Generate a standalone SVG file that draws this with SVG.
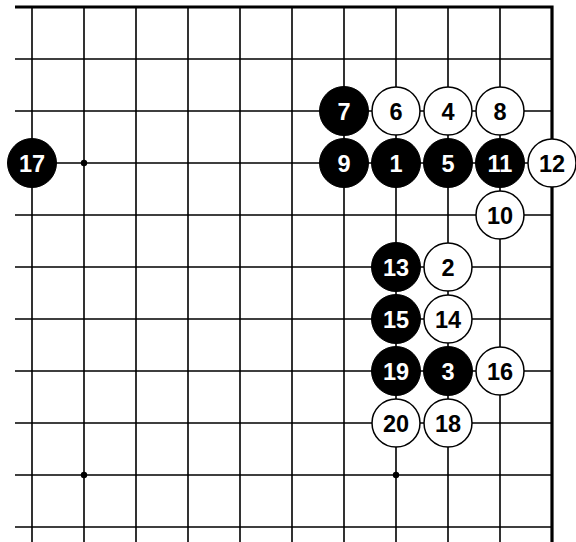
<svg xmlns="http://www.w3.org/2000/svg" width="576" height="542" viewBox="0 0 576 542">
<style>
.g{stroke:#000;stroke-width:1.6;fill:none}
.b{stroke:#000;stroke-width:3.2;fill:none}
.bs{fill:#000;stroke:#000;stroke-width:1}
.ws{fill:#fff;stroke:#000;stroke-width:1.5}
text{font-family:"Liberation Sans",Arial,sans-serif;font-weight:bold;font-size:23.5px;text-anchor:middle}
.bt{fill:#fff}
.wt{fill:#000}
</style>
<defs>
<g id="B"><circle r="24.5" class="bs"/></g>
<g id="W"><circle r="24" class="ws"/></g>
</defs>
<rect width="576" height="542" fill="#fff"/>
<g id="connectors">
<g id="grid">
<path class="g" d="M15 59H552M15 111H552M15 163H552M15 215H552M15 267H552M15 319H552M15 371H552M15 423H552M15 475H552M15 527H552"/>
<path class="g" d="M32 7V542M84 7V542M136 7V542M188 7V542M240 7V542M292 7V542M344 7V542M396 7V542M448 7V542M500 7V542"/>
<path class="b" d="M15 7H552V542"/>
<circle cx="84" cy="163" r="3.2"/>
<circle cx="84" cy="475" r="3.2"/>
<circle cx="396" cy="475" r="3.2"/>
</g>
</g>
<g id="s17" transform="translate(32,163)"><use href="#B"/><text class="bt" y="8.5">17</text></g>
<g id="s7" transform="translate(344,111)"><use href="#B"/><text class="bt" y="8.5">7</text></g>
<g id="s6" transform="translate(396,111)"><use href="#W"/><text class="wt" y="8.5">6</text></g>
<g id="s4" transform="translate(448,111)"><use href="#W"/><text class="wt" y="8.5">4</text></g>
<g id="s8" transform="translate(500,111)"><use href="#W"/><text class="wt" y="8.5">8</text></g>
<g id="s9" transform="translate(344,163)"><use href="#B"/><text class="bt" y="8.5">9</text></g>
<g id="s1" transform="translate(396,163)"><use href="#B"/><text class="bt" y="8.5">1</text></g>
<g id="s5" transform="translate(448,163)"><use href="#B"/><text class="bt" y="8.5">5</text></g>
<g id="s11" transform="translate(500,163)"><use href="#B"/><text class="bt" y="8.5">11</text></g>
<g id="s12" transform="translate(552,163)"><use href="#W"/><text class="wt" y="8.5">12</text></g>
<g id="s10" transform="translate(500,215)"><use href="#W"/><text class="wt" y="8.5">10</text></g>
<g id="s13" transform="translate(396,267)"><use href="#B"/><text class="bt" y="8.5">13</text></g>
<g id="s2" transform="translate(448,267)"><use href="#W"/><text class="wt" y="8.5">2</text></g>
<g id="s15" transform="translate(396,319)"><use href="#B"/><text class="bt" y="8.5">15</text></g>
<g id="s14" transform="translate(448,319)"><use href="#W"/><text class="wt" y="8.5">14</text></g>
<g id="s19" transform="translate(396,371)"><use href="#B"/><text class="bt" y="8.5">19</text></g>
<g id="s3" transform="translate(448,371)"><use href="#B"/><text class="bt" y="8.5">3</text></g>
<g id="s16" transform="translate(500,371)"><use href="#W"/><text class="wt" y="8.5">16</text></g>
<g id="s20" transform="translate(396,423)"><use href="#W"/><text class="wt" y="8.5">20</text></g>
<g id="s18" transform="translate(448,423)"><use href="#W"/><text class="wt" y="8.5">18</text></g>
</svg>
